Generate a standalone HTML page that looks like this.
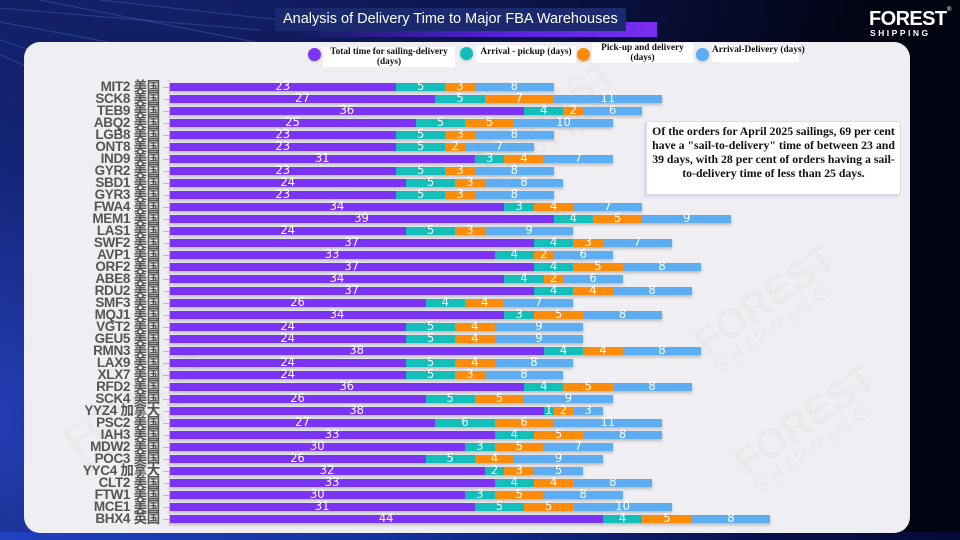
<!DOCTYPE html>
<html><head><meta charset="utf-8">
<style>
*{margin:0;padding:0;box-sizing:border-box}
html,body{width:960px;height:540px;overflow:hidden}
body{position:relative;background:#03061f;font-family:"Liberation Sans",sans-serif}
.bg{position:absolute;inset:0;background:
 radial-gradient(ellipse 260px 420px at 0px 420px, rgba(40,70,200,.85), rgba(40,70,200,0) 100%),
 radial-gradient(ellipse 700px 180px at 150px 0px, rgba(20,35,110,.9), rgba(20,35,110,0) 100%),
 linear-gradient(90deg,#0a1450 0%,#050a30 45%,#02030f 100%);}
.bot{position:absolute;left:0;top:532px;width:960px;height:8px;background:linear-gradient(90deg,#2040c0,#1530a0 40%,#08104a 80%,#050a35)}
.title{position:absolute;left:275px;top:8px;width:351px;height:23px;background:#1b2a6e;color:#fff;font-size:14.5px;line-height:23px;padding-left:8px;white-space:nowrap}
.pbar{position:absolute;left:290px;top:22px;width:367px;height:15px;background:linear-gradient(90deg,rgba(80,40,220,0) 0%,#5a22e0 60%,#7a2df0 100%)}
.logo{position:absolute;left:869px;top:9px;color:#fff;font-weight:bold;font-size:20px;line-height:20px;letter-spacing:-0.6px}
.logo2{position:absolute;left:870px;top:29px;color:#fff;font-size:8.5px;line-height:9px;letter-spacing:2.5px;font-weight:bold}
.reg{position:absolute;left:947px;top:7px;color:#fff;font-size:6px}
.panel{position:absolute;left:24px;top:42px;width:886px;height:491px;background:#efeff3;border-radius:16px}
.wm{position:absolute;color:rgba(150,150,160,.07);font-weight:bold;font-size:40px;transform:rotate(-35deg);white-space:nowrap;line-height:36px}
.wm small{display:block;font-size:20px;letter-spacing:6px;line-height:20px}
.lg{position:absolute;border-radius:50%;width:13px;height:13px;box-shadow:0 1px 2px rgba(0,0,0,.2)}
.lt{position:absolute;background:#fff;font-family:"Liberation Serif",serif;font-weight:bold;font-size:9.3px;line-height:10px;text-align:center;color:#111;white-space:nowrap}
.ann{position:absolute;left:646px;top:121px;width:255px;height:74px;background:#fff;border:1px solid #dcdce8;box-shadow:-2px 2px 2px rgba(170,160,230,.35);font-family:"Liberation Serif",serif;font-weight:bold;font-size:11.8px;line-height:14px;text-align:center;color:#111;padding-top:2px;white-space:nowrap}
.axis{position:absolute;left:169px;top:80px;width:1px;height:446px;background:#c4c4c8}
.row{position:absolute;left:0;width:960px;height:12px;top:calc(81.3px + var(--i)*12px)}
.lb{position:absolute;right:800px;top:0;line-height:12px;font-size:13.5px;font-weight:bold;color:#555;white-space:nowrap;font-family:"Liberation Sans","Noto Sans CJK SC",sans-serif;letter-spacing:-0.3px}
.tk{position:absolute;left:163px;top:6px;width:6px;height:1px;background:#bbb}
.bar{position:absolute;left:169.5px;top:2.2px;height:7.6px;display:flex;box-shadow:0 2px 3px rgba(0,0,0,.22)}
.bar span{display:block;height:7.6px;width:calc(var(--n)*9.85px);color:#fff;text-align:center;font-family:"DejaVu Sans Condensed","DejaVu Sans",sans-serif;font-size:12.8px;line-height:8px;white-space:nowrap;overflow:visible}
.a{background:#7b33f6}.b{background:#13bdb9}.c{background:#ff8b0a}.d{background:#5cadf2}
</style></head><body>
<div class="bg"></div>
<svg style="position:absolute;left:0;top:0" width="300" height="80">
<g stroke="rgba(90,130,230,.35)" stroke-width="1">
<line x1="0" y1="8" x2="260" y2="30"/><line x1="0" y1="22" x2="260" y2="70"/><line x1="40" y1="0" x2="270" y2="45"/><line x1="0" y1="40" x2="120" y2="80"/><line x1="100" y1="0" x2="280" y2="20"/><line x1="0" y1="55" x2="60" y2="80"/>
</g></svg>
<div class="bot"></div>
<div class="pbar"></div>
<div class="title">Analysis of Delivery Time to Major FBA Warehouses</div>
<div class="logo">FOREST</div>
<div class="reg">®</div>
<div class="logo2">SHIPPING</div>
<div class="panel"></div>
<div class="wm" style="left:470px;top:95px">FOREST<small>SHIPPING</small></div>
<div class="wm" style="left:690px;top:280px">FOREST<small>SHIPPING</small></div>
<div class="wm" style="left:60px;top:380px">FOREST<small>SHIPPING</small></div>
<div class="wm" style="left:730px;top:400px">FOREST<small>SHIPPING</small></div>

<div class="lg" style="left:308px;top:48px;background:#7b33f6"></div>
<div class="lt" style="left:323px;top:47px;width:132px;height:20px;padding-top:0">Total time for sailing-delivery<br>(days)</div>
<div class="lg" style="left:460px;top:47px;background:#13bdb9"></div>
<div class="lt" style="left:476px;top:46px;width:100px;height:17px;padding-top:1px">Arrival - pickup (days)</div>
<div class="lg" style="left:577px;top:48px;background:#ff8b0a"></div>
<div class="lt" style="left:592px;top:43px;width:101px;height:20px">Pick-up and delivery<br>(days)</div>
<div class="lg" style="left:696px;top:48px;background:#5cadf2"></div>
<div class="lt" style="left:712px;top:45px;width:87px;height:17px">Arrival-Delivery (days)</div>

<div class="ann">Of the orders for April 2025 sailings, 69 per cent<br>have a "sail-to-delivery" time of between 23 and<br>39 days, with 28 per cent of orders having a sail-<br>to-delivery time of less than 25 days.</div>

<div class="axis"></div>

<div class="row" style="--i:0"><div class="lb">MIT2 美国</div><div class="tk"></div><div class="bar"><span class="a" style="--n:23">23</span><span class="b" style="--n:5">5</span><span class="c" style="--n:3">3</span><span class="d" style="--n:8">8</span></div></div>
<div class="row" style="--i:1"><div class="lb">SCK8 美国</div><div class="tk"></div><div class="bar"><span class="a" style="--n:27">27</span><span class="b" style="--n:5">5</span><span class="c" style="--n:7">7</span><span class="d" style="--n:11">11</span></div></div>
<div class="row" style="--i:2"><div class="lb">TEB9 美国</div><div class="tk"></div><div class="bar"><span class="a" style="--n:36">36</span><span class="b" style="--n:4">4</span><span class="c" style="--n:2">2</span><span class="d" style="--n:6">6</span></div></div>
<div class="row" style="--i:3"><div class="lb">ABQ2 美国</div><div class="tk"></div><div class="bar"><span class="a" style="--n:25">25</span><span class="b" style="--n:5">5</span><span class="c" style="--n:5">5</span><span class="d" style="--n:10">10</span></div></div>
<div class="row" style="--i:4"><div class="lb">LGB8 美国</div><div class="tk"></div><div class="bar"><span class="a" style="--n:23">23</span><span class="b" style="--n:5">5</span><span class="c" style="--n:3">3</span><span class="d" style="--n:8">8</span></div></div>
<div class="row" style="--i:5"><div class="lb">ONT8 美国</div><div class="tk"></div><div class="bar"><span class="a" style="--n:23">23</span><span class="b" style="--n:5">5</span><span class="c" style="--n:2">2</span><span class="d" style="--n:7">7</span></div></div>
<div class="row" style="--i:6"><div class="lb">IND9 美国</div><div class="tk"></div><div class="bar"><span class="a" style="--n:31">31</span><span class="b" style="--n:3">3</span><span class="c" style="--n:4">4</span><span class="d" style="--n:7">7</span></div></div>
<div class="row" style="--i:7"><div class="lb">GYR2 美国</div><div class="tk"></div><div class="bar"><span class="a" style="--n:23">23</span><span class="b" style="--n:5">5</span><span class="c" style="--n:3">3</span><span class="d" style="--n:8">8</span></div></div>
<div class="row" style="--i:8"><div class="lb">SBD1 美国</div><div class="tk"></div><div class="bar"><span class="a" style="--n:24">24</span><span class="b" style="--n:5">5</span><span class="c" style="--n:3">3</span><span class="d" style="--n:8">8</span></div></div>
<div class="row" style="--i:9"><div class="lb">GYR3 美国</div><div class="tk"></div><div class="bar"><span class="a" style="--n:23">23</span><span class="b" style="--n:5">5</span><span class="c" style="--n:3">3</span><span class="d" style="--n:8">8</span></div></div>
<div class="row" style="--i:10"><div class="lb">FWA4 美国</div><div class="tk"></div><div class="bar"><span class="a" style="--n:34">34</span><span class="b" style="--n:3">3</span><span class="c" style="--n:4">4</span><span class="d" style="--n:7">7</span></div></div>
<div class="row" style="--i:11"><div class="lb">MEM1 美国</div><div class="tk"></div><div class="bar"><span class="a" style="--n:39">39</span><span class="b" style="--n:4">4</span><span class="c" style="--n:5">5</span><span class="d" style="--n:9">9</span></div></div>
<div class="row" style="--i:12"><div class="lb">LAS1 美国</div><div class="tk"></div><div class="bar"><span class="a" style="--n:24">24</span><span class="b" style="--n:5">5</span><span class="c" style="--n:3">3</span><span class="d" style="--n:9">9</span></div></div>
<div class="row" style="--i:13"><div class="lb">SWF2 美国</div><div class="tk"></div><div class="bar"><span class="a" style="--n:37">37</span><span class="b" style="--n:4">4</span><span class="c" style="--n:3">3</span><span class="d" style="--n:7">7</span></div></div>
<div class="row" style="--i:14"><div class="lb">AVP1 美国</div><div class="tk"></div><div class="bar"><span class="a" style="--n:33">33</span><span class="b" style="--n:4">4</span><span class="c" style="--n:2">2</span><span class="d" style="--n:6">6</span></div></div>
<div class="row" style="--i:15"><div class="lb">ORF2 美国</div><div class="tk"></div><div class="bar"><span class="a" style="--n:37">37</span><span class="b" style="--n:4">4</span><span class="c" style="--n:5">5</span><span class="d" style="--n:8">8</span></div></div>
<div class="row" style="--i:16"><div class="lb">ABE8 美国</div><div class="tk"></div><div class="bar"><span class="a" style="--n:34">34</span><span class="b" style="--n:4">4</span><span class="c" style="--n:2">2</span><span class="d" style="--n:6">6</span></div></div>
<div class="row" style="--i:17"><div class="lb">RDU2 美国</div><div class="tk"></div><div class="bar"><span class="a" style="--n:37">37</span><span class="b" style="--n:4">4</span><span class="c" style="--n:4">4</span><span class="d" style="--n:8">8</span></div></div>
<div class="row" style="--i:18"><div class="lb">SMF3 美国</div><div class="tk"></div><div class="bar"><span class="a" style="--n:26">26</span><span class="b" style="--n:4">4</span><span class="c" style="--n:4">4</span><span class="d" style="--n:7">7</span></div></div>
<div class="row" style="--i:19"><div class="lb">MQJ1 美国</div><div class="tk"></div><div class="bar"><span class="a" style="--n:34">34</span><span class="b" style="--n:3">3</span><span class="c" style="--n:5">5</span><span class="d" style="--n:8">8</span></div></div>
<div class="row" style="--i:20"><div class="lb">VGT2 美国</div><div class="tk"></div><div class="bar"><span class="a" style="--n:24">24</span><span class="b" style="--n:5">5</span><span class="c" style="--n:4">4</span><span class="d" style="--n:9">9</span></div></div>
<div class="row" style="--i:21"><div class="lb">GEU5 美国</div><div class="tk"></div><div class="bar"><span class="a" style="--n:24">24</span><span class="b" style="--n:5">5</span><span class="c" style="--n:4">4</span><span class="d" style="--n:9">9</span></div></div>
<div class="row" style="--i:22"><div class="lb">RMN3 美国</div><div class="tk"></div><div class="bar"><span class="a" style="--n:38">38</span><span class="b" style="--n:4">4</span><span class="c" style="--n:4">4</span><span class="d" style="--n:8">8</span></div></div>
<div class="row" style="--i:23"><div class="lb">LAX9 美国</div><div class="tk"></div><div class="bar"><span class="a" style="--n:24">24</span><span class="b" style="--n:5">5</span><span class="c" style="--n:4">4</span><span class="d" style="--n:8">8</span></div></div>
<div class="row" style="--i:24"><div class="lb">XLX7 美国</div><div class="tk"></div><div class="bar"><span class="a" style="--n:24">24</span><span class="b" style="--n:5">5</span><span class="c" style="--n:3">3</span><span class="d" style="--n:8">8</span></div></div>
<div class="row" style="--i:25"><div class="lb">RFD2 美国</div><div class="tk"></div><div class="bar"><span class="a" style="--n:36">36</span><span class="b" style="--n:4">4</span><span class="c" style="--n:5">5</span><span class="d" style="--n:8">8</span></div></div>
<div class="row" style="--i:26"><div class="lb">SCK4 美国</div><div class="tk"></div><div class="bar"><span class="a" style="--n:26">26</span><span class="b" style="--n:5">5</span><span class="c" style="--n:5">5</span><span class="d" style="--n:9">9</span></div></div>
<div class="row" style="--i:27"><div class="lb">YYZ4 加拿大</div><div class="tk"></div><div class="bar"><span class="a" style="--n:38">38</span><span class="b" style="--n:1">1</span><span class="c" style="--n:2">2</span><span class="d" style="--n:3">3</span></div></div>
<div class="row" style="--i:28"><div class="lb">PSC2 美国</div><div class="tk"></div><div class="bar"><span class="a" style="--n:27">27</span><span class="b" style="--n:6">6</span><span class="c" style="--n:6">6</span><span class="d" style="--n:11">11</span></div></div>
<div class="row" style="--i:29"><div class="lb">IAH3 美国</div><div class="tk"></div><div class="bar"><span class="a" style="--n:33">33</span><span class="b" style="--n:4">4</span><span class="c" style="--n:5">5</span><span class="d" style="--n:8">8</span></div></div>
<div class="row" style="--i:30"><div class="lb">MDW2 美国</div><div class="tk"></div><div class="bar"><span class="a" style="--n:30">30</span><span class="b" style="--n:3">3</span><span class="c" style="--n:5">5</span><span class="d" style="--n:7">7</span></div></div>
<div class="row" style="--i:31"><div class="lb">POC3 美国</div><div class="tk"></div><div class="bar"><span class="a" style="--n:26">26</span><span class="b" style="--n:5">5</span><span class="c" style="--n:4">4</span><span class="d" style="--n:9">9</span></div></div>
<div class="row" style="--i:32"><div class="lb">YYC4 加拿大</div><div class="tk"></div><div class="bar"><span class="a" style="--n:32">32</span><span class="b" style="--n:2">2</span><span class="c" style="--n:3">3</span><span class="d" style="--n:5">5</span></div></div>
<div class="row" style="--i:33"><div class="lb">CLT2 美国</div><div class="tk"></div><div class="bar"><span class="a" style="--n:33">33</span><span class="b" style="--n:4">4</span><span class="c" style="--n:4">4</span><span class="d" style="--n:8">8</span></div></div>
<div class="row" style="--i:34"><div class="lb">FTW1 美国</div><div class="tk"></div><div class="bar"><span class="a" style="--n:30">30</span><span class="b" style="--n:3">3</span><span class="c" style="--n:5">5</span><span class="d" style="--n:8">8</span></div></div>
<div class="row" style="--i:35"><div class="lb">MCE1 美国</div><div class="tk"></div><div class="bar"><span class="a" style="--n:31">31</span><span class="b" style="--n:5">5</span><span class="c" style="--n:5">5</span><span class="d" style="--n:10">10</span></div></div>
<div class="row" style="--i:36"><div class="lb">BHX4 英国</div><div class="tk"></div><div class="bar"><span class="a" style="--n:44">44</span><span class="b" style="--n:4">4</span><span class="c" style="--n:5">5</span><span class="d" style="--n:8">8</span></div></div>
</body></html>
